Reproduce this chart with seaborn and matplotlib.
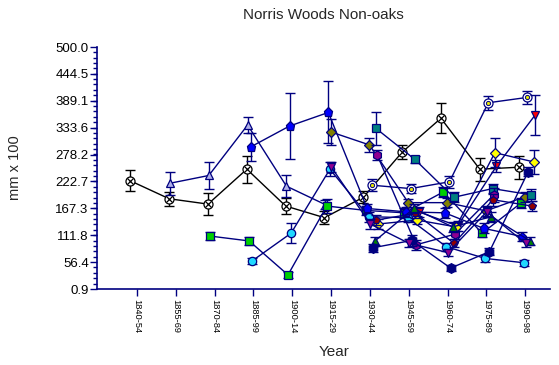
import matplotlib
matplotlib.use("Agg")
import matplotlib.pyplot as plt
from matplotlib.ticker import FixedLocator, AutoMinorLocator
import numpy as np
import pandas as pd
import seaborn as sns

# ---------------- data ----------------
periods = ["1840-54", "1855-69", "1870-84", "1885-99", "1900-14", "1915-29",
           "1930-44", "1945-59", "1960-74", "1975-89", "1990-98"]
ytick_labels = ["0.9", "56.4", "111.8", "167.3", "222.7", "278.2", "333.6",
                "389.1", "444.5", "500.0"]
N = None

black_vals = [224, 187, 176, 248, 172, 148, 190, 283, 353, 248, 252]
black_err = [22, 14, 22, 28, 16, 14, 12, 15, 31, 24, 24]

tri_vals = [N, 219, 235, 339, 213, 175, N, N, N, N, N]
tri_err = [N, 24, 28, 16, 22, 10, N, N, N, N, N]

lime_vals = [N, N, 110, 100, 30, 172, 163, 158, 201, 116, 178]
lime_err = [N, N, 8, 8, 6, 15, 10, 10, 10, 8, 10]

cyan_vals = [N, N, N, 59, 116, 248, 150, 148, 88, 64, 55]
cyan_err = [N, N, N, 6, 20, 15, 10, 8, 8, 8, 6]

blue_vals = [N, N, N, 294, 337, 365, 167, 160, 158, 126, 109]
blue_err = [N, N, N, 29, 68, 64, 10, 10, 10, 10, 10]

olive_vals = [N, N, N, N, N, 325, 298, 179, 179, 162, 191]
olive_err = [N, N, N, N, N, 27, 15, 8, 10, 10, 10]

teal_vals = [N, N, N, N, N, N, 332, 268, 190, 208, 195]
teal_err = [N, N, N, N, N, N, 34, 8, 10, 10, 12]

ring_vals = [N, N, N, N, N, N, 215, 208, 222, 385, 396]
ring_err = [N, N, N, N, N, N, 12, 10, 12, 14, 14]

purple_vals = [N, N, N, N, N, N, 277, 92, 114, 195, N]
purple_err = [N, N, N, N, N, N, 10, 10, 10, 15, N]

red_vals = [N, N, N, N, N, N, N, 160, 131, 254, 360]
red_err = [N, N, N, N, N, N, N, 10, 10, 12, 42]

yellow_vals = [N, N, N, N, N, N, 135, 143, 129, 282, 263]
yellow_err = [N, N, N, N, N, N, 10, 8, 8, 30, 25]

darkred_vals = [N, N, N, N, N, N, 143, 157, 95, 185, 172]
darkred_err = [N, N, N, N, N, N, 10, 10, 8, 12, 10]

gtri_vals = [N, N, N, N, N, N, 100, 167, 129, 150, 100]
gtri_err = [N, N, N, N, N, N, 8, 10, 10, 10, 8]

navy_vals = [N, N, N, N, N, N, 86, 101, 44, 78, 243]
navy_err = [N, N, N, N, N, N, 8, 12, 6, 8, 10]

ptri_vals = [N, N, N, N, N, 252, 135, 95, 76, 160, 95]
ptri_err = [N, N, N, N, N, 10, 10, 8, 8, 10, 8]

# ---------------- styles ----------------
NAVY = "#000080"
series = [
    # vals, errs, jitter, marker, face, edge, line, size
    (black_vals, black_err, -0.17, "o", "white", "black", "black", 6.5),
    (tri_vals, tri_err, -0.15, "^", "#b0b0e8", NAVY, NAVY, 6),
    (lime_vals, lime_err, -0.11, "s", "#00d000", NAVY, NAVY, 5.5),
    (cyan_vals, cyan_err, -0.03, "o", "#20d8ff", NAVY, NAVY, 6),
    (blue_vals, blue_err, -0.07, "p", "#0000ff", NAVY, NAVY, 6.5),
    (olive_vals, olive_err, -0.01, "D", "#808000", NAVY, NAVY, 5),
    (teal_vals, teal_err, 0.16, "s", "#008080", NAVY, NAVY, 5.5),
    (ring_vals, ring_err, 0.05, "o", "white", NAVY, NAVY, 6.5),
    (purple_vals, purple_err, 0.19, "h", "#900090", NAVY, NAVY, 6.5),
    (red_vals, red_err, 0.26, "v", "#ff0000", NAVY, NAVY, 6),
    (yellow_vals, yellow_err, 0.22, "D", "#ffff00", NAVY, NAVY, 5),
    (darkred_vals, darkred_err, 0.17, "p", "#900000", NAVY, NAVY, 6),
    (gtri_vals, gtri_err, 0.13, "^", "#008000", NAVY, NAVY, 6),
    (navy_vals, navy_err, 0.08, "h", NAVY, NAVY, NAVY, 7),
    (ptri_vals, ptri_err, 0.01, "v", "#900090", NAVY, NAVY, 6),
]

sns.set_style("white")
plt.rcParams["font.family"] = ["Liberation Sans", "DejaVu Sans"]

fig = plt.figure(figsize=(5.59, 3.65), dpi=100)
ax = fig.add_axes([97 / 559, 1 - 289 / 365, (550 - 97) / 559, (289 - 47) / 365])

for k, (vals, errs, jit, mk, fc, ec, lc, ms) in enumerate(series):
    df = pd.DataFrame({"slot": np.arange(len(periods)), "val": vals, "err": errs}).dropna()
    df["x"] = df["slot"] + jit
    z = 3 + k * 0.1
    ax.errorbar(df["x"], df["val"], yerr=df["err"], fmt="none", ecolor=lc,
                elinewidth=1.0, capsize=3.5, capthick=1.0, zorder=z)
    sns.lineplot(data=df, x="x", y="val", ax=ax, color=lc, lw=1.0, marker=mk,
                 markersize=ms, markerfacecolor=fc, markeredgecolor=ec,
                 markeredgewidth=0.9, legend=False, zorder=z + 0.05,
                 estimator=None, sort=False)
    if k == 0:
        ax.scatter(df["x"], df["val"], marker="x", s=18, c="black",
                   linewidths=0.9, zorder=z + 0.08)
    if k == 7:
        ax.scatter(df["x"], df["val"], marker="o", s=9, c="#e8e800",
                   edgecolors=NAVY, linewidths=0.7, zorder=z + 0.08)

ytick_pos = [float(t) for t in ytick_labels]
ax.set_ylim(0.9, 500.0)
ax.set_xlim(-1.03, 10.64)
ax.yaxis.set_major_locator(FixedLocator(ytick_pos))
ax.set_yticklabels(ytick_labels)
ax.yaxis.set_minor_locator(AutoMinorLocator(5))
ax.set_xticks(range(len(periods)))
ax.set_xticklabels(periods, rotation=270, fontsize=6.7)

for s in ["top", "right"]:
    ax.spines[s].set_visible(False)
for s in ["left", "bottom"]:
    ax.spines[s].set_color(NAVY)
    ax.spines[s].set_linewidth(1.2)

ax.tick_params(axis="y", which="major", length=5, width=1, color=NAVY,
               labelsize=9.5, labelcolor="black", direction="out", left=True, pad=1)
ax.tick_params(axis="y", which="minor", length=3, width=1, color=NAVY,
               direction="out", left=True)
ax.tick_params(axis="x", which="major", length=5, width=1, color=NAVY,
               labelcolor="black", direction="out", bottom=True, pad=2)

ax.set_title("Norris Woods Non-oaks", fontsize=11, pad=20)
ax.set_xlabel("Year", fontsize=11)
ax.xaxis.set_label_coords(0.523, -0.232)
ax.set_ylabel("mm x 100", fontsize=10.5)
ax.yaxis.set_label_coords(-0.165, 0.5)

fig.savefig("out.png", dpi=100, facecolor="white")
